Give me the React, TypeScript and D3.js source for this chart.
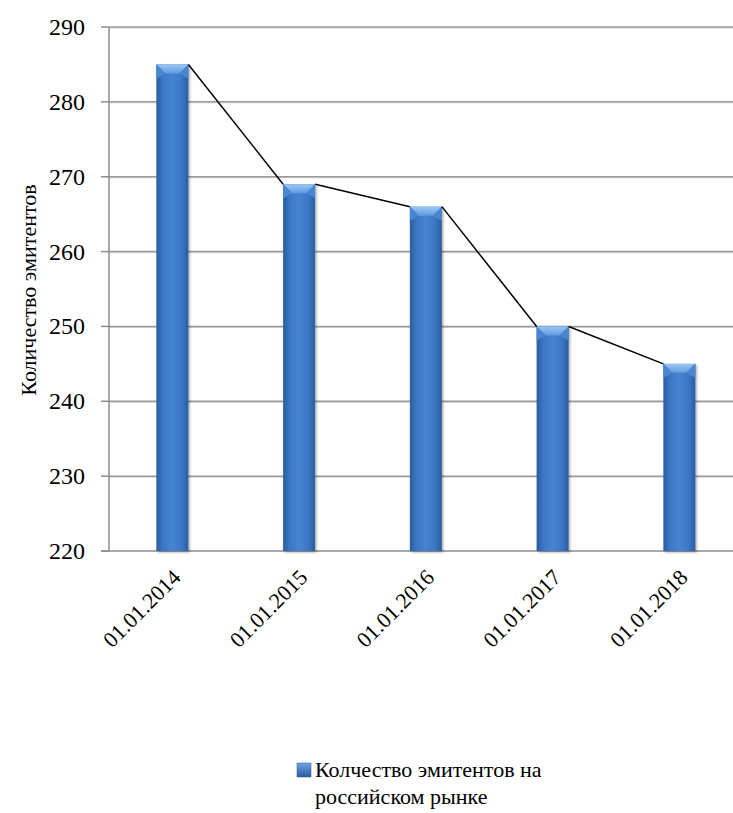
import React, { useEffect, useState } from "react";
import * as d3 from "d3";

const categories = ["01.01.2014", "01.01.2015", "01.01.2016", "01.01.2017", "01.01.2018"];
const issuers = [285, 269, 266, 250, 245];
const yTicks = [220, 230, 240, 250, 260, 270, 280, 290];
const yTitle = "Количество эмитентов";
const legendLines = ["Колчество эмитентов на", "российском рынке"];

const W = 733;
const H = 813;
const left = 109;
const top = 27;
const bottom = 551;
const FONT = "Liberation Serif";

export default function App() {
  const [fontsReady, setFontsReady] = useState(0);
  useEffect(() => {
    const fs = (document as any).fonts;
    if (fs && fs.load) {
      Promise.all([fs.load(`22px "${FONT}"`, "Количество 0123"), fs.ready])
        .then(() => setFontsReady((v) => v + 1))
        .catch(() => setFontsReady((v) => v + 1));
    }
  }, []);

  const x = d3
    .scaleBand<string>()
    .domain(categories)
    .range([left, left + 5 * 126.75])
    .paddingInner(0.7475)
    .paddingOuter(0.7475 / 2);
  const y = d3.scaleLinear().domain([220, 290]).range([bottom, top]);
  const bw = x.bandwidth();

  // connector from each bar's top-right corner to the next bar's top-left corner
  const segs: [number, number][][] = [];
  for (let i = 0; i < categories.length - 1; i++) {
    segs.push([
      [x(categories[i])! + bw, y(issuers[i])],
      [x(categories[i + 1])!, y(issuers[i + 1])],
    ]);
  }
  const line = d3.line();
  const bevel = 9;

  return (
    <svg
      key={fontsReady}
      width={W}
      height={H}
      style={{ position: "absolute", left: 0, top: 0, background: "#fff", fontFamily: FONT }}
    >
      <defs>
        <linearGradient id="barBody" x1="0" x2="1" y1="0" y2="0">
          <stop offset="0" stopColor="#2b5c9f" />
          <stop offset="0.2" stopColor="#3b76c4" />
          <stop offset="0.5" stopColor="#4683d0" />
          <stop offset="0.8" stopColor="#3b76c4" />
          <stop offset="1" stopColor="#2b5c9f" />
        </linearGradient>
        <linearGradient id="barTop" x1="0" x2="0" y1="0" y2="1">
          <stop offset="0" stopColor="#9cc7f3" />
          <stop offset="1" stopColor="#5f9be0" />
        </linearGradient>
        <linearGradient id="legendSq" x1="0" x2="0" y1="0" y2="1">
          <stop offset="0" stopColor="#6fa6e6" />
          <stop offset="1" stopColor="#2a5a9c" />
        </linearGradient>
        <filter id="shadow" x="-20%" y="-5%" width="150%" height="115%">
          <feDropShadow dx="1.5" dy="1.5" stdDeviation="1.2" floodColor="#000" floodOpacity="0.3" />
        </filter>
      </defs>

      {/* horizontal gridlines */}
      {yTicks.slice(1).map((t) => (
        <g key={t}>
          <line x1={left} x2={W} y1={y(t) + 1} y2={y(t) + 1} stroke="#d0d0d0" strokeWidth={1} />
          <line x1={left} x2={W} y1={y(t)} y2={y(t)} stroke="#9a9a9a" strokeWidth={1.5} />
        </g>
      ))}

      {/* axes */}
      <line x1={left} x2={left} y1={top} y2={bottom} stroke="#8c8c8c" strokeWidth={1.5} />
      <line x1={left - 8} x2={W} y1={bottom} y2={bottom} stroke="#8c8c8c" strokeWidth={1.5} />
      {yTicks.map((t) => (
        <g key={t}>
          <line x1={left - 8} x2={left} y1={y(t)} y2={y(t)} stroke="#8c8c8c" strokeWidth={1.5} />
          <text x={85} y={y(t) + 8} textAnchor="end" fontFamily={FONT} fontSize={24}>
            {t}
          </text>
        </g>
      ))}

      {/* bars */}
      {categories.map((c, i) => {
        const bx = x(c)!;
        const by = y(issuers[i]);
        return (
          <g key={c} filter="url(#shadow)">
            <rect x={bx} y={by} width={bw} height={bottom - by} fill="url(#barBody)" />
            <path
              d={`M${bx},${by} L${bx + bw},${by} L${bx + bw - bevel},${by + bevel} L${bx + bevel},${by + bevel} Z`}
              fill="url(#barTop)"
            />
            <path d={`M${bx},${by} L${bx + bevel},${by + bevel} L${bx},${by + bevel * 1.6} Z`} fill="#4a86d2" />
            <path
              d={`M${bx + bw},${by} L${bx + bw - bevel},${by + bevel} L${bx + bw},${by + bevel * 1.6} Z`}
              fill="#4a86d2"
            />
          </g>
        );
      })}

      {/* connectors */}
      {segs.map((s, i) => (
        <path key={i} d={line(s) ?? ""} stroke="#000" strokeWidth={1.5} fill="none" />
      ))}

      {/* category labels */}
      {categories.map((c) => {
        const cx = x(c)! + bw / 2 + 4;
        const cy = bottom + 22;
        return (
          <text
            key={c}
            transform={`translate(${cx},${cy}) rotate(-45) translate(0,8)`}
            textAnchor="end"
            fontFamily={FONT}
            fontSize={22}
          >
            {c}
          </text>
        );
      })}

      {/* y-axis title */}
      <text transform={`translate(36,290) rotate(-90)`} textAnchor="middle" fontFamily={FONT} fontSize={22}>
        {yTitle}
      </text>

      {/* legend */}
      <rect x={297} y={763} width={14} height={14} fill="url(#legendSq)" stroke="#2a5a9c" strokeWidth={0.5} />
      {legendLines.map((l, i) => (
        <text key={i} x={315} y={777 + i * 27} fontFamily={FONT} fontSize={22}>
          {l}
        </text>
      ))}
    </svg>
  );
}
